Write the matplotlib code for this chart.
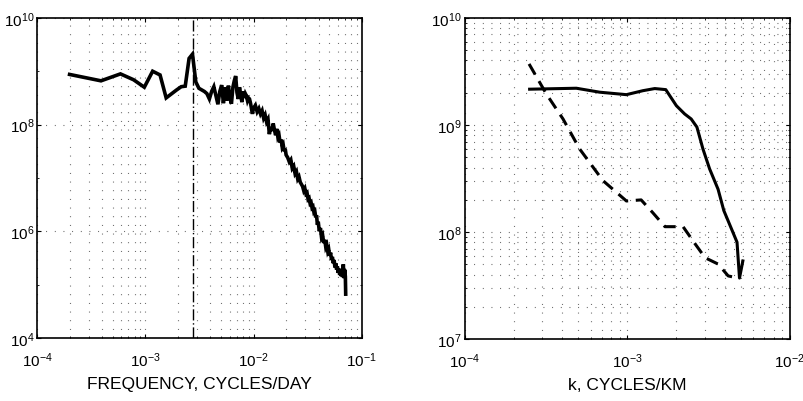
import numpy as np
import matplotlib
matplotlib.use('Agg')
import matplotlib.pyplot as plt
from matplotlib.ticker import LogLocator, NullFormatter

plt.rcParams['font.family'] = ['Liberation Sans', 'DejaVu Sans']
plt.rcParams['mathtext.fontset'] = 'custom'
plt.rcParams['mathtext.rm'] = 'Liberation Sans'
plt.rcParams['mathtext.it'] = 'Liberation Sans'
plt.rcParams['mathtext.default'] = 'regular'

# ---- 左图：频谱（频率单位 1e-3 cycles/day，功率取 log10）----
freq_mcpd = [0.20, 0.39, 0.59, 0.78, 0.98, 1.17, 1.37, 1.56, 1.76, 1.95,
             2.15, 2.34, 2.54, 2.73, 2.93, 3.13, 3.32, 3.52, 3.71, 3.91,
             4.10, 4.30, 4.49, 4.69, 4.88, 5.08, 5.27, 5.47, 5.66, 5.86,
             6.05, 6.25, 6.45, 6.64, 6.84, 7.03, 7.23, 7.42, 7.62, 7.81,
             8.01, 8.20, 8.40, 8.59, 8.79, 8.98, 9.18, 9.38, 9.57, 9.77,
             9.96, 10.4, 10.8, 11.2, 11.6, 12.0, 12.4, 12.8, 13.2, 13.6,
             14.0, 14.4, 14.8, 15.2, 15.6, 16.0, 16.4, 16.8, 17.2, 17.6,
             18.0, 18.4, 18.8, 19.2, 19.6, 20.0, 20.7, 21.4, 22.1, 22.8,
             23.5, 24.2, 24.9, 25.6, 26.3, 27.0, 27.7, 28.4, 29.1, 29.8,
             30.5, 31.2, 31.9, 32.6, 33.3, 34.0, 34.7, 35.4, 36.1, 36.8,
             37.5, 38.2, 38.9, 39.6, 40.5, 41.5, 42.5, 43.5, 44.5, 45.5,
             46.5, 47.5, 48.5, 49.5, 50.5, 51.5, 52.5, 53.5, 54.5, 55.5,
             56.5, 57.5, 58.5, 59.5, 60.5, 61.5, 62.5, 63.5, 64.5, 65.5,
             66.5, 67.5, 68.5, 69.5, 70.5, 71.0]
log_power = [8.94, 8.82, 8.95, 8.84, 8.70, 9.00, 8.93, 8.50, 8.58, 8.65,
             8.71, 8.72, 9.24, 9.32, 8.80, 8.68, 8.65, 8.62, 8.58, 8.48,
             8.62, 8.71, 8.55, 8.38, 8.62, 8.74, 8.40, 8.70, 8.45, 8.73,
             8.50, 8.39, 8.70, 8.82, 8.91, 8.60, 8.48, 8.70, 8.55, 8.42,
             8.62, 8.50, 8.58, 8.54, 8.45, 8.50, 8.48, 8.40, 8.30, 8.20,
             8.30, 8.36, 8.24, 8.30, 8.20, 8.26, 8.12, 8.18, 8.05, 8.10,
             7.82, 7.95, 7.88, 8.02, 7.90, 7.80, 7.92, 7.76, 7.80, 7.66,
             7.72, 7.58, 7.62, 7.50, 7.55, 7.43, 7.38, 7.30, 7.34, 7.18,
             7.22, 7.08, 7.12, 6.98, 7.02, 6.92, 6.88, 6.84, 6.76, 6.80,
             6.70, 6.72, 6.60, 6.62, 6.52, 6.54, 6.44, 6.46, 6.36, 6.38,
             6.26, 6.30, 6.12, 6.18, 6.00, 6.06, 5.88, 5.92, 5.78, 5.84,
             5.70, 5.74, 5.62, 5.66, 5.54, 5.60, 5.46, 5.52, 5.40, 5.46,
             5.32, 5.40, 5.28, 5.34, 5.22, 5.30, 5.18, 5.26, 5.16, 5.24,
             5.14, 5.38, 5.12, 5.28, 5.15, 4.82]
annual_freq = 1 / 365.25   # 年周期竖线

# ---- 右图：波数谱（k 单位 1e-3 cycles/km，功率取 log10）----
k_solid = [0.251, 0.487, 0.678, 0.99, 1.25, 1.48, 1.73, 2.01, 2.26, 2.48,
           2.69, 2.93, 3.22, 3.63, 3.94, 4.39, 4.75, 4.92, 5.16]
log_solid = [9.334, 9.343, 9.306, 9.283, 9.32, 9.34, 9.33, 9.18, 9.103, 9.056,
             8.98, 8.776, 8.59, 8.40, 8.20, 8.03, 7.905, 7.57, 7.73]
k_dashed = [0.249, 0.318, 0.403, 0.51, 0.71, 0.99, 1.22, 1.44, 1.71, 2.21,
            2.62, 3.02, 3.64, 4.19, 4.83]
log_dashed = [9.57, 9.29, 9.056, 8.776, 8.48, 8.29, 8.30, 8.18, 8.05, 8.05,
              7.89, 7.76, 7.70, 7.59, 7.57]


def style_axes(ax, ygrid_minor):
    ax.set_xscale('log'); ax.set_yscale('log')
    ax.xaxis.set_minor_locator(LogLocator(base=10, subs=np.arange(2, 10)))
    ax.xaxis.set_minor_formatter(NullFormatter())
    ax.yaxis.set_minor_locator(LogLocator(base=10, subs=np.arange(2, 10)))
    ax.yaxis.set_minor_formatter(NullFormatter())
    grid_kw = dict(color='#555555', linestyle=(0, (0.8, 7)), linewidth=0.8)
    ax.grid(True, which='major', axis='both', **grid_kw)
    ax.grid(True, which='minor', axis='x', **grid_kw)
    if ygrid_minor:
        ax.grid(True, which='minor', axis='y', **grid_kw)
    ax.tick_params(which='both', direction='in', top=True, right=True, labelsize=11)
    ax.tick_params(axis='y', pad=2)
    ax.tick_params(axis='x', pad=9)
    ax.tick_params(which='major', length=3)
    ax.tick_params(which='minor', length=1.5)
    for s in ax.spines.values():
        s.set_linewidth(1.2)


fig = plt.figure(figsize=(8.04, 4.02), dpi=100)

ax1 = fig.add_axes([0.046, 0.157, 0.404, 0.796])
ax1.plot(np.array(freq_mcpd) * 1e-3, 10 ** np.array(log_power), color='black', lw=2.6,
         solid_joinstyle='miter')
ax1.axvline(annual_freq, color='black', lw=1.0, linestyle=(0, (8, 2, 1, 2)))
ax1.set_xlim(1e-4, 1e-1); ax1.set_ylim(1e4, 1e10)
style_axes(ax1, ygrid_minor=False)
ax1.yaxis.set_minor_locator(LogLocator(base=10, subs=[1.0]))
ax1.set_yticks([1e4, 1e6, 1e8, 1e10])
ax1.set_xlabel('FREQUENCY, CYCLES/DAY', fontsize=12.5, labelpad=5)

ax2 = fig.add_axes([0.578, 0.154, 0.404, 0.799])
ax2.plot(np.array(k_solid) * 1e-3, 10 ** np.array(log_solid), color='black', lw=2.2)
ax2.plot(np.array(k_dashed) * 1e-3, 10 ** np.array(log_dashed), color='black', lw=2.2,
         linestyle=(0, (4, 2.5)))
ax2.set_xlim(1e-4, 1e-2); ax2.set_ylim(1e7, 1e10)
style_axes(ax2, ygrid_minor=True)
ax2.set_xlabel('k, CYCLES/KM', fontsize=12.5, labelpad=5)

fig.savefig('out.png', dpi=100)
